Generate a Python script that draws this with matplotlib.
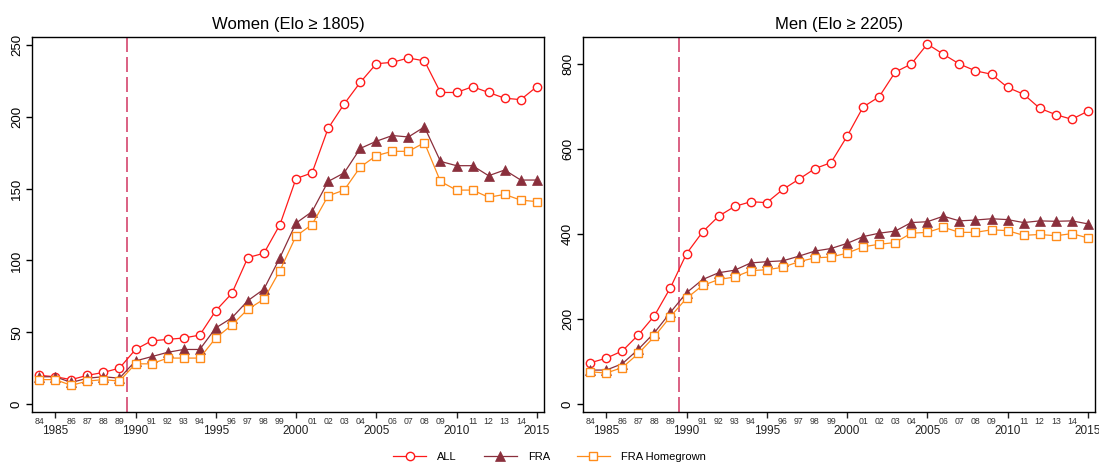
import matplotlib
matplotlib.use("Agg")
from matplotlib import pyplot as plt
from matplotlib.ticker import FixedLocator, FixedFormatter
import numpy as np

plt.rcParams['font.family'] = ['Liberation Sans', 'DejaVu Sans']

# --- data ---
years = np.arange(1984, 2016)

women_all = [20, 19, 17, 20, 22, 25, 38, 44, 45, 46, 48, 65, 77, 102, 105, 125,
             157, 161, 192, 209, 224, 237, 238, 241, 239, 217, 217, 221, 217, 213, 212, 221]
women_fra = [19, 19, 15, 18, 19, 18, 30, 33, 36, 38, 38, 53, 60, 72, 80, 102,
             126, 134, 155, 161, 178, 183, 187, 186, 193, 169, 166, 166, 159, 163, 156, 156]
women_home = [17, 17, 13, 16, 17, 16, 28, 28, 32, 32, 32, 46, 55, 66, 73, 93,
              117, 125, 145, 149, 165, 173, 176, 176, 182, 155, 149, 149, 144, 146, 142, 141]

men_all = [97, 108, 125, 163, 208, 274, 354, 405, 442, 465, 476, 474, 505, 529, 554, 568,
           630, 699, 723, 781, 800, 847, 823, 800, 784, 776, 745, 729, 696, 681, 670, 689]
men_fra = [80, 80, 95, 129, 168, 216, 262, 293, 309, 315, 332, 335, 337, 348, 360, 366,
           378, 394, 402, 407, 427, 429, 442, 431, 433, 436, 434, 427, 431, 430, 431, 424]
men_home = [76, 73, 86, 119, 159, 206, 249, 279, 293, 299, 314, 316, 322, 335, 344, 346,
            355, 370, 376, 380, 402, 404, 416, 404, 404, 410, 408, 397, 399, 396, 401, 391]

panels = [
    ("Women (Elo \u2265 1805)", women_all, women_fra, women_home, [0, 50, 100, 150, 200, 250], (-5.6, 255.6)),
    ("Men (Elo \u2265 2205)", men_all, men_fra, men_home, [0, 200, 400, 600, 800], (-18.8, 863.5)),
]

major_years = [1985, 1990, 1995, 2000, 2005, 2010, 2015]
minor_years = [y for y in years if y % 5 != 0]

# --- styles ---
c_all = '#ff1a1a'
c_fra = '#8a2f3c'
c_home = '#ff8c1a'
c_vline = '#d4456e'

fig = plt.figure(figsize=(10.99, 4.63), dpi=100)
positions = [[0.0291, 0.110, 0.4659, 0.810], [0.5305, 0.110, 0.4659, 0.810]]

for pos, (title, y_all, y_fra, y_home, yticks, ylim) in zip(positions, panels):
    ax = fig.add_axes(pos)
    ax.axvline(1989.5, color=c_vline, lw=1.2, dashes=(9, 3), zorder=1)

    ax.plot(years, y_all, color=c_all, lw=0.9, marker='o', ms=6, mfc='white',
            mec=c_all, mew=1.0, label='ALL', zorder=3)
    ax.plot(years, y_fra, color=c_fra, lw=0.9, marker='^', ms=7, mfc=c_fra,
            mec=c_fra, mew=0.5, label='FRA', zorder=3)
    ax.plot(years, y_home, color=c_home, lw=0.9, marker='s', ms=6, mfc='white',
            mec=c_home, mew=1.0, label='FRA Homegrown', zorder=3)

    ax.set_xlim(1983.55, 2015.45)
    ax.set_ylim(*ylim)

    ax.xaxis.set_major_locator(FixedLocator(major_years))
    ax.xaxis.set_major_formatter(FixedFormatter([str(y) for y in major_years]))
    ax.xaxis.set_minor_locator(FixedLocator(minor_years))
    ax.xaxis.set_minor_formatter(FixedFormatter(["%02d" % (y % 100) for y in minor_years]))
    ax.tick_params(axis='x', which='major', length=4, width=1, pad=5, labelsize=8.5, colors='#222222')
    ax.tick_params(axis='x', which='minor', length=0, pad=3.5, labelsize=6.3, labelcolor='#333333')

    ax.set_yticks(yticks)
    ax.tick_params(axis='y', length=4, width=1, labelsize=9.5, pad=2.5)
    for lab in ax.get_yticklabels():
        lab.set_rotation(90)
        lab.set_va('center')

    for sp in ax.spines.values():
        sp.set_linewidth(1.0)

    ax.set_title(title, fontsize=12, pad=6)

handles, labels = ax.get_legend_handles_labels()
fig.legend(handles, labels, loc='center', bbox_to_anchor=(0.5, 0.013), ncol=3,
           frameon=False, fontsize=8, handlelength=3.0, handletextpad=1.0,
           columnspacing=2.4)

fig.savefig('out.png', dpi=100)
